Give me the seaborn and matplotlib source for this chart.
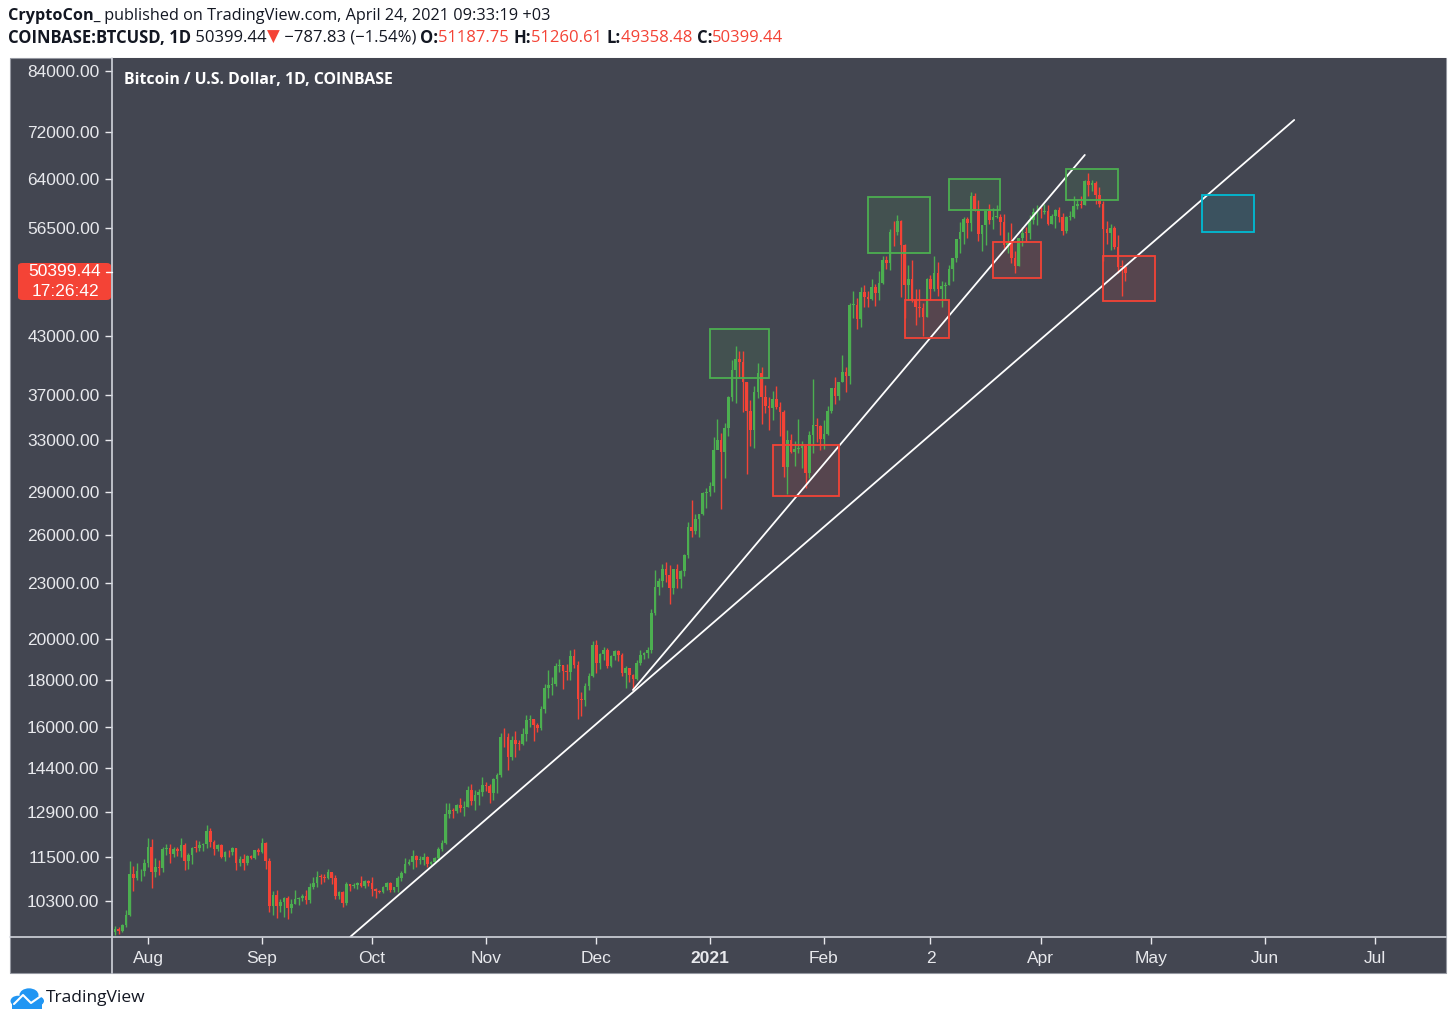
import numpy as np
import pandas as pd
import seaborn as sns
import matplotlib.pyplot as plt
import matplotlib.dates as mdates
from matplotlib.patches import Rectangle, FancyBboxPatch, Circle
from matplotlib.lines import Line2D

# ---- data: COINBASE BTCUSD daily candles, 2020-07-23 .. 2021-04-24 ----
first_open = 9530
close_jul = [9600, 9540, 9700, 9930, 11030, 10910, 11100, 11110, 11350]
high_jul = [9680, 9650, 9730, 10080, 11400, 11240, 11340, 11180, 11450]
low_jul = [9440, 9480, 9520, 9650, 9920, 10570, 10860, 10830, 10960]

close_aug = [11810, 11070, 11230, 11190, 11740, 11770, 11600, 11760, 11680, 11880,
             11390, 11570, 11780, 11770, 11870, 11910, 12290, 11960, 11740, 11860,
             11520, 11670, 11650, 11770, 11330, 11460, 11330, 11530, 11480, 11710, 11660]
high_aug = [12080, 12050, 11480, 11420, 11800, 11910, 11910, 11810, 11810, 12070,
            11940, 11620, 11800, 12010, 11980, 11930, 12470, 12380, 12020, 11890,
            11890, 11690, 11720, 11820, 11780, 11530, 11590, 11560, 11580, 11720, 11780]
low_aug = [11230, 10650, 10950, 11000, 11080, 11560, 11350, 11520, 11530, 11510,
           11150, 11180, 11300, 11660, 11690, 11690, 11770, 11800, 11570, 11680,
           11490, 11400, 11520, 11580, 11130, 11260, 11150, 11290, 11450, 11450, 11560]

close_sep = [11930, 11400, 10170, 10460, 10160, 10270, 10370, 10130, 10230, 10340,
             10390, 10440, 10330, 10680, 10790, 10950, 10940, 10930, 11080, 10920,
             10420, 10530, 10240, 10740, 10690, 10730, 10770, 10700, 10840, 10780]
high_sep = [12080, 11950, 11470, 10560, 10580, 10350, 10400, 10440, 10340, 10590,
            10410, 10480, 10580, 10780, 10940, 11100, 11040, 11040, 11180, 11050,
            10990, 10570, 10560, 10800, 10760, 10790, 10800, 10960, 10870, 10850]
low_sep = [11640, 11170, 10010, 9950, 9860, 10010, 9880, 9840, 10000, 10210,
           10200, 10300, 10210, 10260, 10630, 10670, 10740, 10800, 10890, 10760,
           10360, 10350, 10140, 10200, 10560, 10640, 10630, 10660, 10650, 10700]

close_oct = [10620, 10570, 10550, 10670, 10790, 10600, 10670, 10920, 11060, 11300,
             11380, 11540, 11430, 11430, 11500, 11320, 11360, 11490, 11750, 11920,
             12820, 12980, 12930, 13120, 13040, 13070, 13650, 13280, 13460, 13560, 13800]
high_oct = [10950, 10640, 10600, 10690, 10800, 10800, 10680, 10960, 11100, 11490,
            11440, 11730, 11560, 11550, 11620, 11530, 11400, 11500, 11820, 12020,
            13210, 13200, 13030, 13170, 13350, 13260, 13790, 13860, 13650, 13680, 14100]
low_oct = [10440, 10380, 10500, 10520, 10600, 10540, 10550, 10550, 10830, 11050,
           11280, 11180, 11230, 11310, 11270, 11220, 11290, 11340, 11410, 11690,
           11890, 12700, 12720, 12880, 12900, 12780, 13060, 13130, 12950, 13130, 13430]

close_nov = [13760, 13550, 14030, 14150, 15590, 15580, 14840, 15480, 15330, 15310,
             15700, 16290, 16330, 16070, 15960, 16720, 17660, 17780, 17810, 18680,
             18710, 18420, 18370, 19160, 18730, 17150, 17140, 17720, 18180, 19700]
high_nov = [13900, 13830, 14070, 14250, 15770, 15970, 15760, 15650, 15850, 15470,
            15960, 16480, 16480, 16330, 16150, 16880, 17850, 18480, 18140, 18810,
            18970, 18700, 18770, 19420, 19490, 18920, 17460, 17880, 18350, 19860]
low_nov = [13620, 13200, 13290, 13530, 14100, 15210, 14350, 14720, 14820, 15080,
           15270, 15440, 15980, 15430, 15800, 15880, 16560, 17210, 17330, 17760,
           18360, 17620, 18000, 18030, 18570, 16330, 16450, 16880, 17560, 18170]

close_dec = [18790, 19220, 19450, 18650, 19150, 19360, 19170, 18320, 18550, 18250,
             18040, 18800, 19170, 19270, 19440, 21350, 22800, 23130, 23850, 23480,
             22730, 23820, 23250, 23730, 24710, 26490, 26280, 27040, 27370, 28880, 28990]
high_dec = [19920, 19300, 19590, 19520, 19170, 19420, 19420, 19290, 18640, 18560,
            18290, 18950, 19410, 19350, 19570, 21560, 23770, 23290, 24170, 24300,
            24100, 23850, 24120, 23800, 24790, 26870, 28420, 27420, 27400, 28990, 29300]
low_dec = [18330, 18510, 18930, 18570, 18600, 18930, 18900, 18200, 17650, 17930,
           17560, 18000, 18720, 19000, 19050, 19280, 21230, 22350, 22770, 23060,
           21820, 22380, 22720, 22700, 23440, 24500, 25850, 26060, 25880, 27320, 27850]

close_jan = [29400, 32200, 33000, 32020, 34030, 36830, 39430, 40600, 40240, 38240,
             35550, 33920, 37320, 39150, 36830, 36020, 35820, 36630, 35920, 35470,
             30850, 33000, 32090, 32270, 32370, 32550, 30430, 33470, 34320, 34270, 33110]
high_jan = [29680, 33300, 34810, 33670, 34490, 36930, 40400, 41950, 41380, 41360,
            38300, 36600, 37850, 40100, 39750, 37950, 36850, 37400, 37850, 36400,
            35600, 33850, 33530, 32940, 34880, 32940, 32560, 33780, 38550, 34900, 34330]
low_jan = [28700, 29000, 32390, 27740, 30000, 33400, 36500, 36300, 38720, 35450,
           30300, 32530, 32400, 36700, 34400, 35360, 33850, 34750, 35780, 33400,
           30070, 28800, 31950, 30900, 31940, 30820, 29240, 30020, 31990, 32840, 32200]

close_feb = [33520, 35510, 37660, 36950, 38290, 39260, 38880, 46450, 46480, 44840,
             47990, 47410, 47190, 48600, 47930, 49170, 52150, 51660, 55890, 55840,
             57410, 54090, 48890, 49680, 47060, 46290, 46110, 45140]
high_feb = [34740, 35990, 37700, 38700, 38290, 40950, 39700, 46760, 48200, 47330,
            48680, 48900, 48150, 49700, 49000, 50640, 52600, 52550, 56360, 57550,
            58350, 57570, 54200, 51400, 52060, 48360, 48380, 46660]
low_feb = [32300, 33420, 35360, 36200, 36570, 38220, 37350, 38050, 45000, 43740,
           44000, 46290, 46200, 47040, 46330, 47100, 48960, 50950, 50760, 54000,
           55500, 47400, 45000, 47090, 46810, 44150, 45050, 43020]

close_mar = [49590, 48440, 50350, 48370, 48750, 48880, 50970, 52390, 54880, 55850,
             57800, 57230, 61190, 59000, 55600, 56900, 58910, 57650, 58030, 58100,
             57350, 54090, 54340, 52300, 51300, 55050, 55820, 55780, 57620, 58790, 58800]
high_mar = [49820, 50200, 52640, 51780, 49450, 49210, 51450, 52400, 54900, 57380,
            58100, 58000, 61790, 61700, 60600, 56960, 58980, 60000, 59450, 59900,
            58500, 58460, 55850, 57200, 53220, 55080, 56600, 56580, 58380, 59400, 59800]
low_mar = [45060, 47060, 48150, 47500, 46300, 47100, 48900, 49330, 51850, 53030,
           54270, 55000, 56100, 59000, 54600, 53300, 54150, 57050, 56300, 57850,
           55500, 53700, 53000, 51700, 50400, 51300, 53950, 54690, 54900, 57040, 56870]

close_apr = [58740, 58970, 57060, 58200, 59130, 58040, 56000, 58080, 58090, 59770,
             60000, 59860, 63580, 62960, 63230, 61450, 60070, 56270, 55720, 56490,
             53810, 51190, 51187.75, 50399.44]
high_apr = [59480, 60040, 59780, 58480, 59200, 59480, 58650, 58160, 58880, 61240,
            60700, 61200, 63780, 64900, 63820, 63580, 62600, 60400, 57550, 57100,
            56800, 55450, 52150, 51260.61]
low_apr = [57950, 58480, 56960, 57000, 56470, 57350, 55500, 55700, 57700, 57940,
           59300, 59380, 59800, 61300, 62000, 60000, 59600, 52000, 54200, 53400,
           53600, 50400, 47500, 49358.48]

y_ticks = [84000, 72000, 64000, 56500, 43000, 37000, 33000, 29000, 26000, 23000,
           20000, 18000, 16000, 14400, 12900, 11500, 10300]
x_ticks = ["2020-08-01", "2020-09-01", "2020-10-01", "2020-11-01", "2020-12-01", "2021-01-01",
           "2021-02-01", "2021-03-02", "2021-04-01", "2021-05-01", "2021-06-01", "2021-07-01"]
x_labels = ["Aug", "Sep", "Oct", "Nov", "Dec", "2021", "Feb", "2", "Apr", "May", "Jun", "Jul"]

# drawings: trend lines and zones (start, end, low, high, kind)
trend_steep = [("2020-12-11", 17560), ("2021-04-13", 67930)]
trend_long = [("2020-09-25", 9404), ("2021-06-09", 74215)]
zones = [
    ("2021-01-01", "2021-01-17", 38650, 43750, "top"),
    ("2021-01-18", "2021-02-05", 28680, 32630, "bottom"),
    ("2021-02-13", "2021-03-02", 53020, 61090, "top"),
    ("2021-02-23", "2021-03-07", 42760, 47070, "bottom"),
    ("2021-03-07", "2021-03-21", 59100, 63920, "top"),
    ("2021-03-19", "2021-04-01", 49780, 54520, "bottom"),
    ("2021-04-08", "2021-04-22", 60620, 65560, "top"),
    ("2021-04-18", "2021-05-02", 46960, 52620, "bottom"),
    ("2021-05-15", "2021-05-29", 55910, 61400, "target"),
]

BG = "#434651"
GREEN = "#4caf50"
RED = "#f44336"
TXT = "#e8e9ed"
zone_colors = {"top": GREEN, "bottom": RED, "target": "#00bcd4"}

closes = np.array(close_jul + close_aug + close_sep + close_oct + close_nov + close_dec
                  + close_jan + close_feb + close_mar + close_apr, dtype=float)
highs = np.array(high_jul + high_aug + high_sep + high_oct + high_nov + high_dec
                 + high_jan + high_feb + high_mar + high_apr, dtype=float)
lows = np.array(low_jul + low_aug + low_sep + low_oct + low_nov + low_dec
                + low_jan + low_feb + low_mar + low_apr, dtype=float)
dates = pd.date_range("2020-07-23", periods=len(closes), freq="D")
df = pd.DataFrame({"Date": dates, "Close": closes, "High": highs, "Low": lows})
df["Open"] = df["Close"].shift(1).fillna(first_open)
df["x"] = mdates.date2num(df["Date"])
df["up"] = df["Close"] >= df["Open"]

sns.set_theme(style="dark", rc={"axes.facecolor": BG, "figure.facecolor": "white"})
plt.rcParams["font.family"] = ["Liberation Sans", "DejaVu Sans"]

W, H = 1456, 1023
fig = plt.figure(figsize=(W / 100, H / 100), dpi=100)


def fx(px):
    return px / W


def fy(py):
    return 1 - py / H


# dark panel behind chart and scales
fig.patches.append(Rectangle((fx(10), fy(973)), fx(1446) - fx(10), fy(58) - fy(973),
                             transform=fig.transFigure, facecolor=BG, edgecolor="#9598a1",
                             lw=0.8, zorder=-5))

ax = fig.add_axes([fx(112), fy(937), fx(1446) - fx(112), fy(58) - fy(937)])
ax.set_zorder(1)
ax.set_facecolor(BG)
for s in ax.spines.values():
    s.set_visible(False)

colors = np.where(df["up"], GREEN, RED)
ax.vlines(df["x"], df["Low"], df["High"], colors=colors, lw=1.0, zorder=3)
body = np.maximum((df["Close"] - df["Open"]).abs(), df["Close"] * 0.002)
ax.bar(df["x"], body, bottom=np.minimum(df["Open"], df["Close"]), width=0.72,
       color=colors, lw=0, zorder=4)

for (d0, p0), (d1, p1) in [trend_steep, trend_long]:
    ax.plot(mdates.date2num(pd.to_datetime([d0, d1])), [p0, p1], color="white", lw=1.3, zorder=5)

for d0, d1, lo, hi, kind in zones:
    x0, x1 = mdates.date2num(pd.to_datetime([d0, d1]))
    c = zone_colors[kind]
    ax.add_patch(Rectangle((x0, lo), x1 - x0, hi - lo, facecolor=c, alpha=0.11, lw=0, zorder=2))
    ax.add_patch(Rectangle((x0, lo), x1 - x0, hi - lo, facecolor="none", edgecolor=c, lw=1.3, zorder=6))

ax.set_yscale("log")
ax.set_ylim(9404, 86800)
ax.set_xlim(mdates.date2num(pd.Timestamp("2020-08-01")) - 36 / 3.6737,
            mdates.date2num(pd.Timestamp("2020-08-01")) + 1298 / 3.6737)
ax.yaxis.set_minor_locator(plt.NullLocator())
ax.set_yticks(y_ticks)
ax.set_yticklabels([f"{t:.2f}" for t in y_ticks])
ax.set_xticks(mdates.date2num(pd.to_datetime(x_ticks)))
ax.set_xticklabels(x_labels)
ax.tick_params(axis="both", colors=TXT, labelcolor=TXT, labelsize=12.5, direction="out",
               length=5, width=1, left=True, bottom=True)
ax.tick_params(axis="y", pad=4)
ax.tick_params(axis="x", pad=5)
ax.get_xticklabels()[5].set_fontweight("bold")
ax.grid(False)

# scale separators
fig.lines.append(Line2D([fx(112), fx(112)], [fy(58), fy(973)], transform=fig.transFigure,
                        color="#d1d4dc", lw=1.2, zorder=2))
fig.lines.append(Line2D([fx(10), fx(1446)], [fy(937), fy(937)], transform=fig.transFigure,
                        color="#d1d4dc", lw=1.2, zorder=2))

# chart title inside the pane
fig.text(fx(124), fy(80), "Bitcoin / U.S. Dollar, 1D, COINBASE", color="white",
         fontsize=11.4, fontweight="bold", va="center", ha="left",
         family=["Open Sans", "DejaVu Sans"], zorder=3)

# last price label
fig.patches.append(FancyBboxPatch((fx(18), fy(300)), fx(111) - fx(18), fy(263) - fy(300),
                                  boxstyle="round,pad=0,rounding_size=0.003",
                                  transform=fig.transFigure, facecolor="#f44336", edgecolor="none",
                                  zorder=5))
fig.text(fx(65), fy(272), "50399.44", color="white", fontsize=12.5, ha="center", va="center", zorder=6)
fig.text(fx(65), fy(291), "17:26:42", color="white", fontsize=12.5, ha="center", va="center", zorder=6)
fig.lines.append(Line2D([fx(106), fx(112)], [fy(272), fy(272)], transform=fig.transFigure,
                        color="white", lw=1, zorder=7))

# header lines
renderer = fig.canvas.get_renderer()
HF = ["Open Sans", "DejaVu Sans"]


def seq_text(pieces, x, y, size):
    for s, col, wt in pieces:
        t = fig.text(fx(x), fy(y), s, color=col, fontweight=wt, fontsize=size,
                     va="center", ha="left", family=HF)
        x += t.get_window_extent(renderer=renderer).width


seq_text([("CryptoCon_", "#131722", "bold"),
          (" published on TradingView.com, April 24, 2021 09:33:19 +03", "#131722", "normal")],
         8, 16, 11.7)
seq_text([("COINBASE:BTCUSD, 1D", "#131722", "bold"),
          (" 50399.44", "#131722", "normal"),
          ("▼", "#f44336", "normal"),
          (" \u2212787.83 (\u22121.54%) ", "#131722", "normal"),
          ("O:", "#131722", "bold"), ("51187.75 ", "#f44336", "normal"),
          ("H:", "#131722", "bold"), ("51260.61 ", "#f44336", "normal"),
          ("L:", "#131722", "bold"), ("49358.48 ", "#f44336", "normal"),
          ("C:", "#131722", "bold"), ("50399.44", "#f44336", "normal")],
         8, 38, 12)

# TradingView logo
BLUE = "#2196f3"
for cx, cy, r in [(18, 1001, 7.5), (29, 995, 9.5), (37, 1001, 7)]:
    fig.patches.append(Circle((fx(cx), fy(cy)), r / W, transform=fig.transFigure,
                              facecolor=BLUE, edgecolor="none"))
fig.patches.append(Rectangle((fx(12), fy(1008.5)), fx(42) - fx(12), fy(1001) - fy(1008.5),
                             transform=fig.transFigure, facecolor=BLUE, edgecolor="none"))
fig.lines.append(Line2D([fx(14), fx(23), fx(31), fx(41)], [fy(1004), fy(995), fy(1003), fy(996)],
                        transform=fig.transFigure, color="white", lw=1.5))
fig.text(fx(46), fy(998), "TradingView", color="#131722", fontsize=12.5, va="center", ha="left",
         family=HF)

fig.savefig("out.png", dpi=100)
